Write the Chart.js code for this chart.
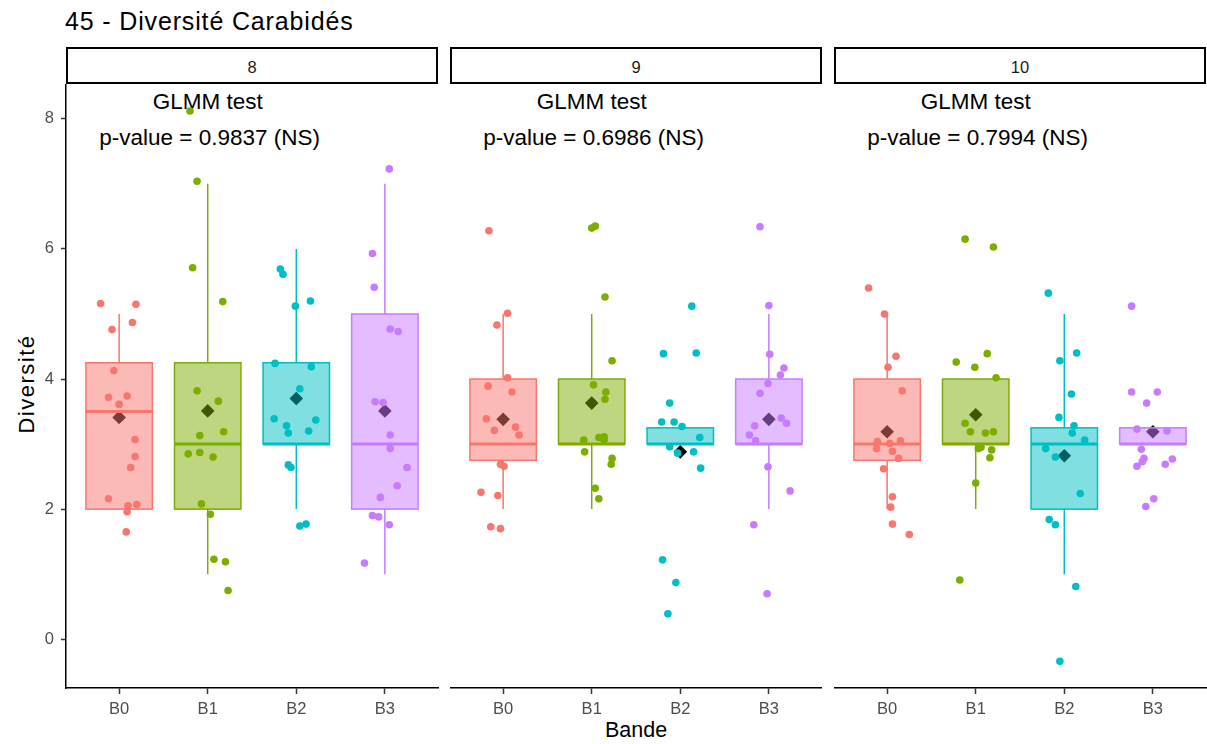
<!DOCTYPE html>
<html><head><meta charset="utf-8">
<script src="https://cdn.jsdelivr.net/npm/chart.js@4"></script>
<style>
body{margin:0;background:#fff;width:1207px;height:744px;position:relative;overflow:hidden;font-family:"Liberation Sans",Arial,sans-serif;}
.t{position:absolute;white-space:nowrap;line-height:1;color:#000;}
canvas{position:absolute;z-index:2;}
.strip{position:absolute;box-sizing:border-box;border:2px solid #000;top:47px;height:37px;z-index:1;}
</style></head><body>
<script>
// ---------- data ----------
const categories = ['B0','B1','B2','B3'];
const panelLabels = ['8','9','10'];
const pValues = ['0.9837','0.6986','0.7994'];
const yTicks = [0,2,4,6,8];
const groupColors = ['#F8766D','#7CAE00','#00BFC4','#C77CFF'];

// box statistics per panel (per category B0..B3)
const p8_lo  = [2, 1, 2, 1];
const p8_q1  = [2, 2, 3, 2];
const p8_med = [3.5, 3, 3, 3];
const p8_q3  = [4.25, 4.25, 4.25, 5];
const p8_hi  = [5, 7, 6, 7];
const p8_mean = [3.41, 3.51, 3.70, 3.51];

const p9_lo  = [2, 2, 3, 2];
const p9_q1  = [2.75, 3, 3, 3];
const p9_med = [3, 3, 3, 3];
const p9_q3  = [4, 4, 3.25, 4];
const p9_hi  = [5, 5, 3.25, 5];
const p9_mean = [3.38, 3.63, 2.88, 3.38];

const p10_lo  = [2, 2, 1, 3];
const p10_q1  = [2.75, 3, 2, 3];
const p10_med = [3, 3, 3, 3];
const p10_q3  = [4, 4, 3.25, 3.25];
const p10_hi  = [5, 4, 5, 3.25];
const p10_mean = [3.19, 3.45, 2.82, 3.19];

// jittered observations: [horizontal jitter, value]
const p8_B0 = [[-0.21,5.16],[0.19,5.15],[-0.08,4.76],[0.15,4.87],[-0.06,4.13],[-0.12,3.72],[0.09,3.74],[0.00,3.61],[0.18,3.07],[0.18,2.81],[0.13,2.64],[-0.12,2.16],[0.10,2.05],[0.20,2.07],[0.09,1.96],[0.08,1.65]];
const p8_B1 = [[-0.20,8.12],[-0.12,7.04],[-0.17,5.71],[0.17,5.19],[-0.12,3.82],[0.12,3.66],[-0.09,3.13],[0.18,3.19],[-0.22,2.85],[-0.09,2.87],[0.06,2.80],[-0.07,2.08],[0.03,1.92],[0.07,1.23],[0.20,1.19],[0.23,0.75]];
const p8_B2 = [[-0.18,5.69],[-0.15,5.61],[-0.01,5.12],[0.16,5.20],[-0.24,4.24],[0.17,4.19],[0.04,3.85],[-0.25,3.39],[-0.11,3.28],[-0.09,3.17],[0.14,3.20],[0.22,3.37],[-0.09,2.68],[-0.06,2.64],[0.04,1.74],[0.11,1.77]];
const p8_B3 = [[0.05,7.23],[-0.14,5.93],[-0.12,5.41],[0.06,4.77],[0.15,4.73],[-0.11,3.65],[-0.02,3.64],[0.06,3.14],[0.06,2.93],[0.25,2.64],[0.14,2.36],[-0.05,2.18],[-0.14,1.90],[-0.07,1.88],[0.05,1.76],[-0.23,1.17]];

const p9_B0 = [[-0.16,6.28],[0.05,5.01],[-0.07,4.83],[0.05,4.02],[-0.17,3.89],[0.10,3.80],[-0.19,3.39],[-0.10,3.21],[0.14,3.26],[0.18,3.14],[-0.03,2.69],[0.01,2.66],[-0.25,2.26],[-0.06,2.21],[-0.14,1.73],[-0.03,1.70]];
const p9_B1 = [[0.00,6.32],[0.04,6.35],[0.15,5.26],[0.23,4.28],[0.02,3.91],[0.16,3.80],[0.15,3.69],[-0.09,3.06],[0.08,3.10],[0.14,3.11],[0.14,3.06],[-0.08,2.88],[0.23,2.78],[0.22,2.69],[0.04,2.32],[0.08,2.16]];
const p9_B2 = [[0.13,5.12],[-0.19,4.39],[0.18,4.40],[-0.12,3.63],[-0.21,3.34],[-0.07,3.34],[0.02,3.27],[0.22,3.10],[-0.12,2.96],[-0.03,2.86],[0.15,2.88],[0.23,2.63],[-0.20,1.22],[-0.05,0.87],[-0.14,0.39]];
const p9_B3 = [[-0.10,6.34],[0.00,5.13],[0.01,4.38],[0.17,4.17],[0.13,4.06],[-0.01,3.93],[-0.10,3.78],[0.14,3.40],[0.20,3.32],[-0.16,3.28],[-0.22,3.14],[-0.15,3.05],[-0.01,2.65],[0.24,2.28],[-0.17,1.76],[-0.02,0.70]];

const p10_B0 = [[-0.21,5.40],[-0.03,5.00],[0.10,4.35],[0.01,4.18],[0.17,3.82],[-0.11,3.04],[0.03,3.01],[0.15,3.05],[-0.12,2.93],[0.06,2.89],[0.13,2.78],[-0.04,2.62],[0.06,2.19],[0.04,2.03],[0.06,1.77],[0.25,1.61]];
const p10_B1 = [[-0.12,6.15],[0.20,6.03],[-0.22,4.26],[-0.01,4.18],[0.13,4.39],[0.23,4.02],[-0.12,3.32],[-0.06,3.19],[0.11,3.17],[0.20,3.19],[0.03,2.93],[0.06,2.95],[0.18,2.91],[0.16,2.79],[0.00,2.40],[-0.18,0.91]];
const p10_B2 = [[-0.18,5.32],[-0.05,4.28],[0.14,4.40],[0.08,3.77],[-0.06,3.41],[0.11,3.28],[0.09,3.17],[0.23,3.06],[-0.21,2.93],[-0.10,2.80],[0.18,2.24],[-0.17,1.84],[-0.10,1.76],[0.13,0.81],[-0.05,-0.34]];
const p10_B3 = [[-0.24,5.12],[-0.24,3.80],[0.05,3.80],[-0.07,3.63],[-0.18,3.23],[0.16,3.20],[-0.13,2.92],[-0.10,2.78],[-0.12,2.73],[-0.18,2.66],[0.22,2.77],[0.14,2.69],[0.01,2.16],[-0.08,2.04]];

// ---------- assembly ----------
const panels = [
  {pts:[p8_B0,p8_B1,p8_B2,p8_B3], lo:p8_lo, q1:p8_q1, med:p8_med, q3:p8_q3, hi:p8_hi, mean:p8_mean},
  {pts:[p9_B0,p9_B1,p9_B2,p9_B3], lo:p9_lo, q1:p9_q1, med:p9_med, q3:p9_q3, hi:p9_hi, mean:p9_mean},
  {pts:[p10_B0,p10_B1,p10_B2,p10_B3], lo:p10_lo, q1:p10_q1, med:p10_med, q3:p10_q3, hi:p10_hi, mean:p10_mean}
];
const layoutGeom = [
  {left:0, width:440, areaLeft:66, padR:2, showY:true},
  {left:450, width:372, areaLeft:450, padR:0, showY:false},
  {left:834, width:373, areaLeft:834, padR:1, showY:false}
];
const Y_MIN = -0.75, Y_MAX = 8.52;
const FONT = '"Liberation Sans", Arial, sans-serif';
const root = document.body;

function addText(txt, css){
  const d = document.createElement('div');
  d.className = 't'; d.textContent = txt;
  Object.assign(d.style, css);
  root.appendChild(d); return d;
}
function rgba(hex, a){
  const n = parseInt(hex.slice(1),16);
  return `rgba(${(n>>16)&255},${(n>>8)&255},${n&255},${a})`;
}

addText('45 - Diversité Carabidés', {left:'65px', top:'9px', fontSize:'25px', letterSpacing:'0.85px'});
addText('Bande', {left:'636px', top:'720px', fontSize:'21.5px', transform:'translateX(-50%)'});
addText('Diversité', {left:'26.5px', top:'384px', fontSize:'22px', letterSpacing:'1.5px', transform:'translate(-50%,-50%) rotate(-90deg)'});

function makeBoxPlugin(pd){
  return {
    id:'boxes',
    afterDatasetDraw(chart, args){
      if(args.index !== 1) return;
      const xs = chart.scales.x, ys = chart.scales.y, ctx = chart.ctx;
      const unit = xs.getPixelForValue(1) - xs.getPixelForValue(0);
      const hw = unit * 0.375;
      ctx.save();
      categories.forEach((c, i) => {
        const cx = xs.getPixelForValue(i);
        const col = groupColors[i];
        const yq1 = ys.getPixelForValue(pd.q1[i]), yq3 = ys.getPixelForValue(pd.q3[i]);
        ctx.strokeStyle = col; ctx.lineWidth = 1.5;
        ctx.beginPath();
        ctx.moveTo(cx, yq3); ctx.lineTo(cx, ys.getPixelForValue(pd.hi[i]));
        ctx.moveTo(cx, yq1); ctx.lineTo(cx, ys.getPixelForValue(pd.lo[i]));
        ctx.stroke();
        ctx.fillStyle = rgba(col, 0.5);
        ctx.fillRect(cx - hw, yq3, 2*hw, yq1 - yq3);
        ctx.strokeRect(cx - hw, yq3, 2*hw, yq1 - yq3);
        const ym = ys.getPixelForValue(pd.med[i]);
        ctx.lineWidth = 3;
        ctx.beginPath(); ctx.moveTo(cx - hw, ym); ctx.lineTo(cx + hw, ym); ctx.stroke();
      });
      ctx.restore();
    }
  };
}

panels.forEach((pd, p) => {
  const g = layoutGeom[p];
  const areaW = g.left + g.width - g.padR - g.areaLeft;
  // strip
  const s = document.createElement('div');
  s.className = 'strip';
  s.style.left = g.areaLeft + 'px';
  s.style.width = areaW + 'px';
  root.appendChild(s);
  const stripCenter = g.areaLeft + areaW/2;
  addText(panelLabels[p], {left:stripCenter+'px', top:'58.5px', fontSize:'16.5px', color:'#1A1A1A', transform:'translateX(-50%)', zIndex:3});
  // annotation (centred on B1)
  const unit = areaW / 4.2;
  const ax = g.areaLeft + unit * 1.6;
  addText('GLMM test', {left:ax+'px', top:'91px', fontSize:'22.5px', transform:'translateX(-50%)', zIndex:1});
  addText('p-value = ' + pValues[p] + ' (NS)', {left:(ax+2)+'px', top:'126.5px', fontSize:'22.5px', transform:'translateX(-50%)', zIndex:1});

  const cv = document.createElement('canvas');
  cv.width = g.width; cv.height = 664;
  cv.style.left = g.left + 'px'; cv.style.top = '80px';
  root.appendChild(cv);

  const ptData = [], ptColors = [];
  pd.pts.forEach((arr, i) => arr.forEach(([dx, v]) => { ptData.push({x: i + dx, y: v}); ptColors.push(groupColors[i]); }));
  const meanData = pd.mean.map((m, i) => ({x: i, y: m}));

  new Chart(cv, {
    type: 'scatter',
    data: { datasets: [
      {data: ptData, backgroundColor: ptColors, borderWidth: 0, pointRadius: 3.8, pointHoverRadius: 3.8, order: 0},
      {data: meanData, backgroundColor: '#000', borderWidth: 0, pointStyle: 'rectRot', pointRadius: 6.8, pointHoverRadius: 6.8, order: 1}
    ]},
    options: {
      responsive: false, animation: false, devicePixelRatio: 1, events: [],
      layout: {autoPadding: false, padding: {top: 5, right: g.padR, left: 0, bottom: 0}},
      plugins: {legend: {display: false}, tooltip: {enabled: false}},
      scales: {
        x: {
          type: 'linear', min: -0.6, max: 3.6,
          afterBuildTicks: sc => { sc.ticks = categories.map((c, i) => ({value: i})); },
          afterFit: sc => { sc.height = 56; sc.paddingLeft = 0; sc.paddingRight = 0; },
          ticks: {callback: v => categories[v], color: '#4D4D4D', font: {family: FONT, size: 16.5}, padding: 6, autoSkip: false, maxRotation: 0},
          grid: {drawOnChartArea: false, drawTicks: true, tickLength: 6, tickColor: '#333', tickWidth: 1.5},
          border: {display: true, color: '#000', width: 1.5}
        },
        y: {
          type: 'linear', min: Y_MIN, max: Y_MAX, display: g.showY,
          afterBuildTicks: sc => { sc.ticks = yTicks.map(v => ({value: v})); },
          afterFit: sc => { sc.width = g.showY ? 66 : 0; sc.paddingTop = 0; sc.paddingBottom = 0; },
          ticks: {color: '#4D4D4D', font: {family: FONT, size: 16.5}, padding: 7},
          grid: {drawOnChartArea: false, drawTicks: true, tickLength: 5, tickColor: '#333', tickWidth: 1.5},
          border: {display: true, color: '#000', width: 1.5}
        }
      }
    },
    plugins: [makeBoxPlugin(pd)]
  });
});
</script>
</body></html>
